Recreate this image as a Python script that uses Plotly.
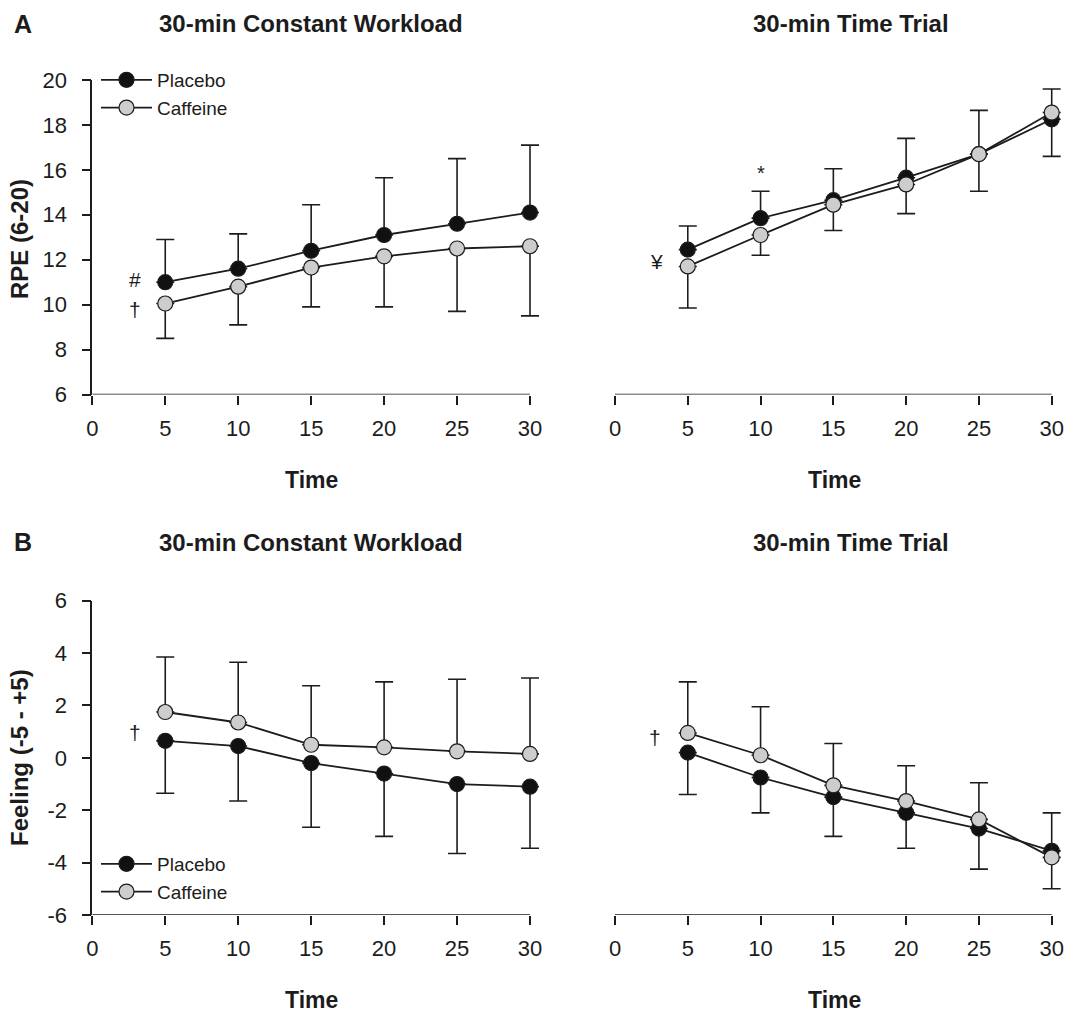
import plotly.graph_objects as go

# ---------------- data ----------------
time = [5, 10, 15, 20, 25, 30]

rpe_cw_placebo = [11.0, 11.6, 12.4, 13.1, 13.6, 14.1]
rpe_cw_placebo_sd = [1.9, 1.55, 2.05, 2.55, 2.9, 3.0]
rpe_cw_caffeine = [10.05, 10.8, 11.65, 12.15, 12.5, 12.6]
rpe_cw_caffeine_sd = [1.55, 1.7, 1.75, 2.25, 2.8, 3.1]

rpe_tt_placebo = [12.45, 13.85, 14.65, 15.65, 16.7, 18.25]
rpe_tt_placebo_sd = [1.05, 1.2, 1.4, 1.75, 1.95, 1.35]
rpe_tt_caffeine = [11.7, 13.1, 14.45, 15.35, 16.7, 18.55]
rpe_tt_caffeine_sd = [1.85, 0.9, 1.15, 1.3, 1.65, 1.95]

feel_cw_placebo = [0.65, 0.45, -0.2, -0.6, -1.0, -1.1]
feel_cw_placebo_sd = [2.0, 2.1, 2.45, 2.4, 2.65, 2.35]
feel_cw_caffeine = [1.75, 1.35, 0.5, 0.4, 0.25, 0.15]
feel_cw_caffeine_sd = [2.1, 2.3, 2.25, 2.5, 2.75, 2.9]

feel_tt_placebo = [0.2, -0.75, -1.5, -2.1, -2.7, -3.55]
feel_tt_placebo_sd = [1.6, 1.35, 1.5, 1.35, 1.55, 1.45]
feel_tt_caffeine = [0.95, 0.1, -1.05, -1.65, -2.35, -3.8]
feel_tt_caffeine_sd = [1.95, 1.85, 1.6, 1.35, 1.4, 1.7]

x_ticks = [0, 5, 10, 15, 20, 25, 30]
rpe_ticks = [6, 8, 10, 12, 14, 16, 18, 20]
feel_ticks = [-6, -4, -2, 0, 2, 4, 6]
feel_tick_labels = ["-6", "-4", "-2", "0", "2", "4", "6"]

panel_titles = ["30-min Constant Workload", "30-min Time Trial"]
panel_letters = ["A", "B"]
x_title = "Time"
y_titles = ["RPE (6-20)", "Feeling (-5 - +5)"]
series_names = ["Placebo", "Caffeine"]

# ---------------- style ----------------
W, H = 1074, 1013
FONT = "Liberation Sans, Arial, sans-serif"
INK = "#1c1c1c"
PLACEBO_FILL = "#111111"
CAFFEINE_FILL = "#cdcdcd"

X_MAX = 30.8  # a little room so the end caps are not clipped


def px(x):
    return x / W


def py(y):
    return 1 - y / H


# pixel geometry of the four panels (x = 0 .. 30)
L0, L30 = 92.3, 530.0
R0, R30 = 615.0, 1051.7
xdom_left = [px(L0), px(L0 + (L30 - L0) / 30 * X_MAX)]
xdom_right = [px(R0), px(R0 + (R30 - R0) / 30 * X_MAX)]
ydom_top = [py(394.5), py(80)]
ydom_bot = [py(915), py(600.7)]

fig = go.Figure()


def add_pair(xa, ya, plc, plc_sd, caf, caf_sd, plc_up, legend, showlegend):
    zeros = [0] * len(time)
    for name, vals, sd, fill, up in [
        (series_names[0], plc, plc_sd, PLACEBO_FILL, plc_up),
        (series_names[1], caf, caf_sd, CAFFEINE_FILL, not plc_up),
    ]:
        fig.add_trace(go.Scatter(
            x=time, y=vals, xaxis=xa, yaxis=ya, name=name,
            mode="lines+markers", cliponaxis=False,
            line=dict(color=INK, width=1.8),
            marker=dict(size=15, color=fill, line=dict(color=INK, width=1.2)),
            error_y=dict(type="data", symmetric=False,
                         array=sd if up else zeros,
                         arrayminus=zeros if up else sd,
                         color=INK, thickness=1.6, width=9),
            showlegend=showlegend, legend=legend,
        ))


add_pair("x", "y", rpe_cw_placebo, rpe_cw_placebo_sd, rpe_cw_caffeine, rpe_cw_caffeine_sd, True, "legend", True)
add_pair("x2", "y2", rpe_tt_placebo, rpe_tt_placebo_sd, rpe_tt_caffeine, rpe_tt_caffeine_sd, True, "legend", False)
add_pair("x3", "y3", feel_cw_placebo, feel_cw_placebo_sd, feel_cw_caffeine, feel_cw_caffeine_sd, False, "legend2", True)
add_pair("x4", "y4", feel_tt_placebo, feel_tt_placebo_sd, feel_tt_caffeine, feel_tt_caffeine_sd, False, "legend2", False)


def xaxis(domain, anchor):
    return dict(domain=domain, anchor=anchor, range=[0, X_MAX], tickvals=x_ticks,
                showline=False, ticks="outside", automargin=False,
                ticklen=9, tickwidth=1.6, tickcolor=INK, showgrid=False, zeroline=False,
                tickfont=dict(family=FONT, size=22, color=INK), ticklabelstandoff=5)


def yaxis(domain, anchor, rng, tickvals, ticktext=None, visible=True):
    d = dict(domain=domain, anchor=anchor, range=rng, tickvals=tickvals,
             showline=visible, linecolor=INK, linewidth=1.6, automargin=False,
             ticks="outside" if visible else "", ticklen=9, tickwidth=1.6, tickcolor=INK,
             showgrid=False, zeroline=False, showticklabels=visible,
             tickfont=dict(family=FONT, size=22, color=INK), ticklabelstandoff=10)
    if ticktext is not None:
        d["ticktext"] = ticktext
    return d


legend_style = dict(xanchor="left", yanchor="top", bgcolor="rgba(0,0,0,0)",
                    font=dict(family=FONT, size=19, color=INK), itemwidth=51,
                    tracegroupgap=0)

fig.update_layout(
    width=W, height=H, margin=dict(l=0, r=0, t=0, b=0, autoexpand=False),
    paper_bgcolor="white", plot_bgcolor="white",
    font=dict(family=FONT, color=INK),
    xaxis=xaxis(xdom_left, "y"),
    yaxis=yaxis(ydom_top, "x", [6, 20], rpe_ticks),
    xaxis2=xaxis(xdom_right, "y2"),
    yaxis2=yaxis(ydom_top, "x2", [6, 20], rpe_ticks, visible=False),
    xaxis3=xaxis(xdom_left, "y3"),
    yaxis3=yaxis(ydom_bot, "x3", [-6, 6], feel_ticks, feel_tick_labels),
    xaxis4=xaxis(xdom_right, "y4"),
    yaxis4=yaxis(ydom_bot, "x4", [-6, 6], feel_ticks, visible=False),
    legend=dict(x=px(96), y=py(61), **legend_style),
    legend2=dict(x=px(96), y=py(845), **legend_style),
)

# x-axis lines running from 0 to 30 only
shapes = []
for xr, yr, ybase in [("x", "y", 6), ("x2", "y2", 6), ("x3", "y3", -6), ("x4", "y4", -6)]:
    shapes.append(dict(type="line", xref=xr, yref=yr, x0=0, x1=30, y0=ybase, y1=ybase,
                       line=dict(color=INK, width=1.6), layer="below"))
fig.update_layout(shapes=shapes)

ann = []
for (ycen, row) in [(23.7, 0), (542.3, 1)]:
    ann.append(dict(text=f"<b>{panel_titles[0]}</b>", x=px(311), y=py(ycen), xref="paper", yref="paper",
                    showarrow=False, xanchor="center", yanchor="middle",
                    font=dict(size=24, family=FONT, color=INK)))
    ann.append(dict(text=f"<b>{panel_titles[1]}</b>", x=px(851), y=py(ycen), xref="paper", yref="paper",
                    showarrow=False, xanchor="center", yanchor="middle",
                    font=dict(size=24, family=FONT, color=INK)))
    ann.append(dict(text=f"<b>{panel_letters[row]}</b>", x=px(12), y=py(ycen), xref="paper", yref="paper",
                    showarrow=False, xanchor="left", yanchor="middle",
                    font=dict(size=25, family=FONT, color=INK)))
for (xc, yc) in [(311, 480), (834.5, 480), (311, 1000), (834.5, 1000)]:
    ann.append(dict(text=f"<b>{x_title}</b>", x=px(xc), y=py(yc), xref="paper", yref="paper",
                    showarrow=False, xanchor="center", yanchor="middle",
                    font=dict(size=23, family=FONT, color=INK)))
for (yc, t) in [(239, y_titles[0]), (758, y_titles[1])]:
    ann.append(dict(text=f"<b>{t}</b>", x=px(19), y=py(yc), xref="paper", yref="paper", textangle=-90,
                    showarrow=False, xanchor="center", yanchor="middle",
                    font=dict(size=24, family=FONT, color=INK)))
sig = [("#", "x", "y", 2.95, 11.1, 21), ("†", "x", "y", 2.95, 9.8, 21),
       ("¥", "x2", "y2", 2.85, 11.9, 21), ("*", "x2", "y2", 10, 15.85, 20),
       ("†", "x3", "y3", 2.95, 0.95, 21), ("†", "x4", "y4", 2.75, 0.76, 21)]
for t, xr, yr, xv, yv, fs in sig:
    ann.append(dict(text=t, x=xv, y=yv, xref=xr, yref=yr, showarrow=False,
                    xanchor="center", yanchor="middle", font=dict(size=fs, family=FONT, color=INK)))
fig.update_layout(annotations=ann)

fig.write_html(
    "out.html",
    config={"displayModeBar": False},
    post_script=(
        "document.documentElement.style.margin='0';"
        "document.documentElement.style.overflow='hidden';"
        "document.body.style.margin='0';"
        "document.body.style.overflow='hidden';"
    ),
)
